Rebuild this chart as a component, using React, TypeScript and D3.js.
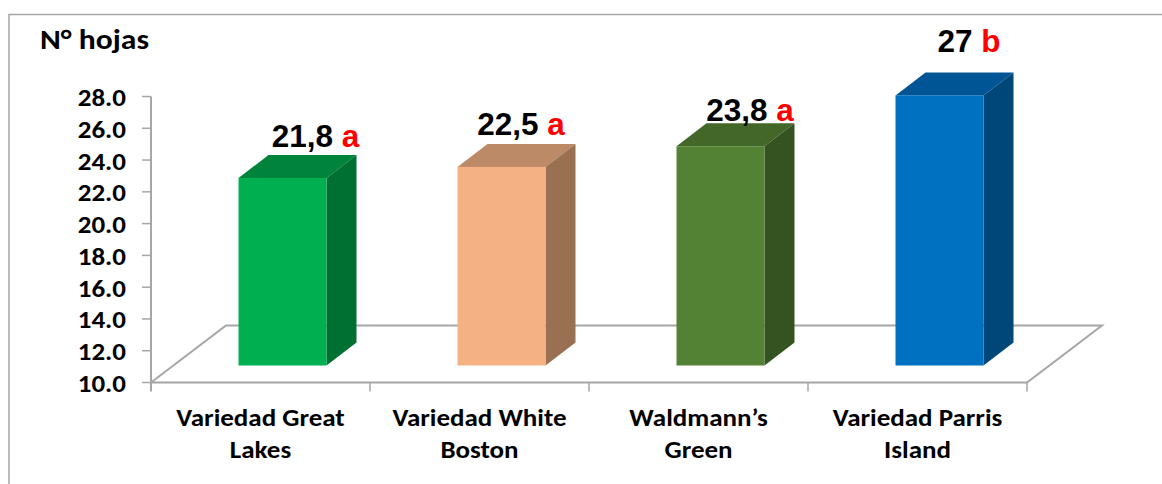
import React from "react";
import * as d3 from "d3";

const categories = [
  ["Variedad Great", "Lakes"],
  ["Variedad White", "Boston"],
  ["Waldmann’s", "Green"],
  ["Variedad Parris", "Island"],
];
const values = [21.8, 22.5, 23.8, 27];
const valueLabels = ["21,8", "22,5", "23,8", "27"];
const letters = ["a", "a", "a", "b"];
const frontColors = ["#00B050", "#F4B183", "#548235", "#0070C0"];
const sideColors = ["#006F32", "#9A7052", "#355221", "#004779"];
const topColors = ["#00843C", "#BD8A67", "#426729", "#005694"];
const labelX = [315.5, 521, 750, 969];
const labelY = [147, 135, 121, 52];
const yTicks = d3.range(10, 28.01, 2);

const W = 1162, H = 484;
const axisX = 151, axisR = 1027, axisB = 382.5, axisT = 96.5;
const dx = 30, dy = -23;
const floorDx = 75, floorDy = -57;
const lift = 17;
const barW = 88;
const stretch = 1.08;

const y = d3.scaleLinear().domain([10, 28]).range([axisB, axisT]);
const x = d3.scaleBand<number>().domain([0, 1, 2, 3]).range([axisX, axisR]);
const line = d3.line();
const GREY = "#A6A6A6";
const SANS = "Carlito, Lato, 'Open Sans', sans-serif";
const ARIAL = "'Liberation Sans', Arial, sans-serif";

export default function App() {
  return (
    <svg width={W} height={H} style={{ position: "absolute", left: 0, top: 0, display: "block" }}>
      <rect width={W} height={H} fill="#fff" />
      <path d={line([[9, H], [9, 14.5], [W, 14.5]]) || ""} fill="none" stroke={GREY} strokeWidth={1.5} />
      <path
        d={line([
          [axisX, axisB],
          [axisX + floorDx, axisB + floorDy],
          [axisR + floorDx, axisB + floorDy],
          [axisR, axisB],
          [axisX, axisB],
        ]) || ""}
        fill="none"
        stroke={GREY}
        strokeWidth={2}
      />
      <line x1={axisX} x2={axisX} y1={axisT} y2={axisB + 9} stroke={GREY} strokeWidth={2} />
      {yTicks.map((t) => (
        <g key={t}>
          <line x1={axisX - 9} x2={axisX} y1={y(t)} y2={y(t)} stroke={GREY} strokeWidth={1.5} />
          <text
            transform={`translate(126,${y(t) + 9.5}) scale(${stretch},1)`}
            textAnchor="end"
            fontFamily={SANS}
            fontWeight={700}
            fontSize={25}
            fill="#000"
          >
            {t.toFixed(1)}
          </text>
        </g>
      ))}
      {[1, 2, 3, 4].map((i) => {
        const px = axisX + (i * (axisR - axisX)) / 4;
        return <line key={i} x1={px} x2={px} y1={axisB} y2={axisB + 9} stroke={GREY} strokeWidth={1.5} />;
      })}
      {values.map((v, i) => {
        const xl = (x(i) as number) + x.bandwidth() / 2 - barW / 2 + 22;
        const xr = xl + barW;
        const top = y(v) - lift;
        const bot = axisB - lift;
        return (
          <g key={i}>
            <path d={(line([[xl, top], [xr, top], [xr + dx, top + dy], [xl + dx, top + dy]]) || "") + "Z"} fill={topColors[i]} />
            <path d={(line([[xr, top], [xr + dx, top + dy], [xr + dx, bot + dy], [xr, bot]]) || "") + "Z"} fill={sideColors[i]} />
            <rect x={xl} y={top} width={barW} height={bot - top} fill={frontColors[i]} />
          </g>
        );
      })}
      {categories.map((c, i) => {
        const cx = (x(i) as number) + x.bandwidth() / 2;
        return (
          <text
            key={i}
            transform={`translate(${cx},0) scale(${stretch},1)`}
            textAnchor="middle"
            fontFamily={SANS}
            fontWeight={700}
            fontSize={25}
            fill="#000"
          >
            <tspan x={0} y={426}>{c[0]}</tspan>
            <tspan x={0} y={458}>{c[1]}</tspan>
          </text>
        );
      })}
      {values.map((_, i) => (
        <text key={i} x={labelX[i]} y={labelY[i]} textAnchor="middle" fontFamily={ARIAL} fontWeight={700} fontSize={31.5}>
          <tspan fill="#000">{valueLabels[i]} </tspan>
          <tspan fill="#FF0000">{letters[i]}</tspan>
        </text>
      ))}
      <text transform={`translate(40,49) scale(1.09,1)`} fontFamily={SANS} fontWeight={700} fontSize={29} fill="#000">
        N° hojas
      </text>
    </svg>
  );
}
